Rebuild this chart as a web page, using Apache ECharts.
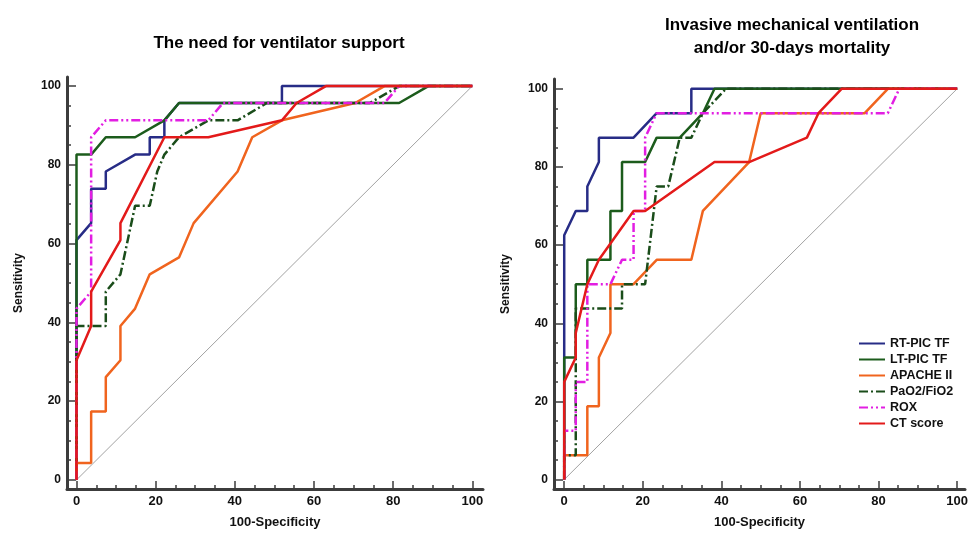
<!DOCTYPE html>
<html>
<head>
<meta charset="utf-8">
<script src="https://cdn.jsdelivr.net/npm/echarts@6/dist/echarts.min.js"></script>
<style>
html, body { margin: 0; padding: 0; background: #fff; }
#main { width: 971px; height: 534px; }
</style>
</head>
<body>
<div id="main"></div>
<script>
'use strict';

// ROC points [100-specificity, sensitivity], left panel: need for ventilator support
var ventRt = [[0,0],[0,60.9],[3.7,65.2],[3.7,73.9],[7.4,73.9],[7.4,78.3],[14.8,82.6],[18.5,82.6],[18.5,87],[22.2,87],[22.2,91.3],[25.9,95.7],[51.9,95.7],[51.9,100],[100,100]];
var ventLt = [[0,0],[0,82.6],[3.7,82.6],[7.4,87],[14.8,87],[22.2,91.3],[25.9,95.7],[81.5,95.7],[88.9,100],[100,100]];
var ventApache = [[0,0],[0,4.3],[3.7,4.3],[3.7,17.4],[7.4,17.4],[7.4,26.1],[11.1,30.4],[11.1,39.1],[14.8,43.5],[18.5,52.2],[25.9,56.5],[29.6,65.2],[40.7,78.3],[44.4,87],[51.9,91.3],[70.4,95.7],[77.8,100],[100,100]];
var ventPao2 = [[0,0],[0,39.1],[7.4,39.1],[7.4,47.8],[11.1,52.2],[14.8,69.6],[18.5,69.6],[20.4,78.3],[22.2,82.6],[25.9,87],[33.3,91.3],[40.7,91.3],[48.1,95.7],[74.1,95.7],[81.5,100],[100,100]];
var ventRox = [[0,0],[0,43.5],[3.7,47.8],[3.7,87],[7.4,91.3],[33.3,91.3],[37,95.7],[77.8,95.7],[81.5,100],[100,100]];
var ventCt = [[0,0],[0,30.4],[3.7,39.1],[3.7,47.8],[11.1,60.9],[11.1,65.2],[22.2,87],[33.3,87],[51.9,91.3],[55.6,95.7],[63,100],[100,100]];

// right panel: invasive ventilation and/or 30-day mortality
var mortRt = [[0,0],[0,62.5],[2.94,68.75],[5.88,68.75],[5.88,75],[8.82,81.25],[8.82,87.5],[17.65,87.5],[23.53,93.75],[32.35,93.75],[32.35,100],[100,100]];
var mortLt = [[0,0],[0,31.25],[2.94,31.25],[2.94,50],[5.88,50],[5.88,56.25],[11.76,56.25],[11.76,68.75],[14.71,68.75],[14.71,81.25],[20.59,81.25],[23.53,87.5],[29.41,87.5],[35.29,93.75],[38.24,100],[100,100]];
var mortApache = [[0,0],[0,6.25],[5.88,6.25],[5.88,18.75],[8.82,18.75],[8.82,31.25],[11.76,37.5],[11.76,50],[17.65,50],[23.53,56.25],[32.35,56.25],[35.29,68.75],[47.06,81.25],[50,93.75],[76.47,93.75],[82.35,100],[100,100]];
var mortPao2 = [[0,0],[0,6.25],[2.94,6.25],[2.94,43.75],[14.71,43.75],[14.71,50],[20.59,50],[23.53,75],[26.47,75],[29.41,87.5],[32.35,87.5],[35.29,93.75],[41.18,100],[100,100]];
var mortRox = [[0,0],[0,12.5],[2.94,12.5],[2.94,25],[5.88,25],[5.88,50],[11.76,50],[14.71,56.25],[17.65,56.25],[17.65,68.75],[20.59,68.75],[20.59,87.5],[23.53,93.75],[82.35,93.75],[85.29,100],[100,100]];
var mortCt = [[0,0],[0,25],[2.94,31.25],[2.94,37.5],[5.88,50],[8.82,56.25],[17.65,68.75],[20.59,68.75],[38.24,81.25],[47.06,81.25],[61.76,87.5],[64.71,93.75],[70.59,100],[100,100]];

var diagonal = [[0,0],[100,100]];
var names = ['RT-PIC TF', 'LT-PIC TF', 'APACHE II', 'PaO2/FiO2', 'ROX', 'CT score'];
var majorTicks = [0, 20, 40, 60, 80, 100];
var minorTicks = [5, 10, 15, 25, 30, 35, 45, 50, 55, 65, 70, 75, 85, 90, 95];

var narrow = '"Liberation Sans Narrow", "Liberation Sans", Arial, sans-serif';
var sans = '"Liberation Sans", Arial, sans-serif';
var axisColor = '#3c3c3c';

var styles = [
    { color: '#272c86', type: 'solid' },
    { color: '#1c5c1c', type: 'solid' },
    { color: '#f0641e', type: 'solid' },
    { color: '#1a4d1a', type: [9, 3, 2, 3] },
    { color: '#e21ee2', type: [9, 3, 2, 3, 2, 3] },
    { color: '#e31a1a', type: 'solid' }
];

function makeX(grid, min, max, major) {
    return {
        gridIndex: grid, type: 'value', min: min, max: max, position: 'bottom',
        axisLine: { show: major, onZero: false, lineStyle: { color: axisColor, width: 3 } },
        axisTick: { show: true, inside: true, length: major ? 8 : 4,
            customValues: major ? majorTicks : minorTicks,
            lineStyle: { color: axisColor, width: 1.5 } },
        axisLabel: { show: major, customValues: majorTicks, margin: 6,
            fontFamily: narrow, fontWeight: 'bold', fontSize: 13, color: '#111' },
        splitLine: { show: false },
        name: major ? '100-Specificity' : '', nameLocation: 'middle', nameGap: 27,
        nameTextStyle: { fontFamily: narrow, fontWeight: 'bold', fontSize: 13, color: '#111' }
    };
}

function makeY(grid, min, max, major) {
    return {
        gridIndex: grid, type: 'value', min: min, max: max, position: 'left',
        axisLine: { show: major, onZero: false, lineStyle: { color: axisColor, width: 3 } },
        axisTick: { show: true, inside: true, length: major ? 9 : 4,
            customValues: major ? majorTicks : minorTicks,
            lineStyle: { color: axisColor, width: 1.5 } },
        axisLabel: { show: major, customValues: majorTicks, margin: 6,
            fontFamily: sans, fontWeight: 'bold', fontSize: 12, color: '#111' },
        splitLine: { show: false },
        name: major ? 'Sensitivity' : '', nameLocation: 'middle', nameGap: 42,
        nameTextStyle: { fontFamily: sans, fontWeight: 'bold', fontSize: 12, color: '#111' }
    };
}

function makeSeries(grid, list) {
    var out = [{
        type: 'line', xAxisIndex: grid * 2, yAxisIndex: grid * 2, data: diagonal,
        symbol: 'none', silent: true, lineStyle: { color: '#8a8a8a', width: 0.8 }
    }];
    list.forEach(function (pts, i) {
        out.push({
            name: names[i], type: 'line', xAxisIndex: grid * 2, yAxisIndex: grid * 2,
            data: pts, symbol: 'none',
            lineStyle: { color: styles[i].color, width: 2.5, type: styles[i].type },
            itemStyle: { color: styles[i].color }
        });
    });
    return out;
}

var chart = echarts.init(document.getElementById('main'));
var option = {
    animation: false,
    backgroundColor: '#fff',
    title: [
        { text: 'The need for ventilator support', left: 274, top: 30, textAlign: 'center',
          textStyle: { fontFamily: sans, fontSize: 17, fontWeight: 'bold', color: '#000' } },
        { text: 'Invasive mechanical ventilation\nand/or 30-days mortality', left: 787, top: 9, textAlign: 'center',
          textStyle: { fontFamily: sans, fontSize: 17, fontWeight: 'bold', color: '#000', lineHeight: 23 } }
    ],
    legend: {
        data: names, orient: 'vertical', left: 853, top: 332,
        itemWidth: 26, itemHeight: 10, itemGap: 3,
        itemStyle: { opacity: 0 },
        textStyle: { fontFamily: sans, fontWeight: 'bold', fontSize: 12.5, color: '#111' }
    },
    grid: [
        { left: 67, right: 488, top: 77, bottom: 42 },
        { left: 554, right: 1, top: 79, bottom: 39 }
    ],
    xAxis: [
        makeX(0, -2.4, 102.7, true), makeX(0, -2.4, 102.7, false),
        makeX(1, -2.6, 102, true), makeX(1, -2.6, 102, false)
    ],
    yAxis: [
        makeY(0, -2.3, 102.3, true), makeY(0, -2.3, 102.3, false),
        makeY(1, -2.4, 102.5, true), makeY(1, -2.4, 102.5, false)
    ],
    series: makeSeries(0, [ventRt, ventLt, ventApache, ventPao2, ventRox, ventCt])
        .concat(makeSeries(1, [mortRt, mortLt, mortApache, mortPao2, mortRox, mortCt]))
};
chart.setOption(option);
</script>
</body>
</html>
